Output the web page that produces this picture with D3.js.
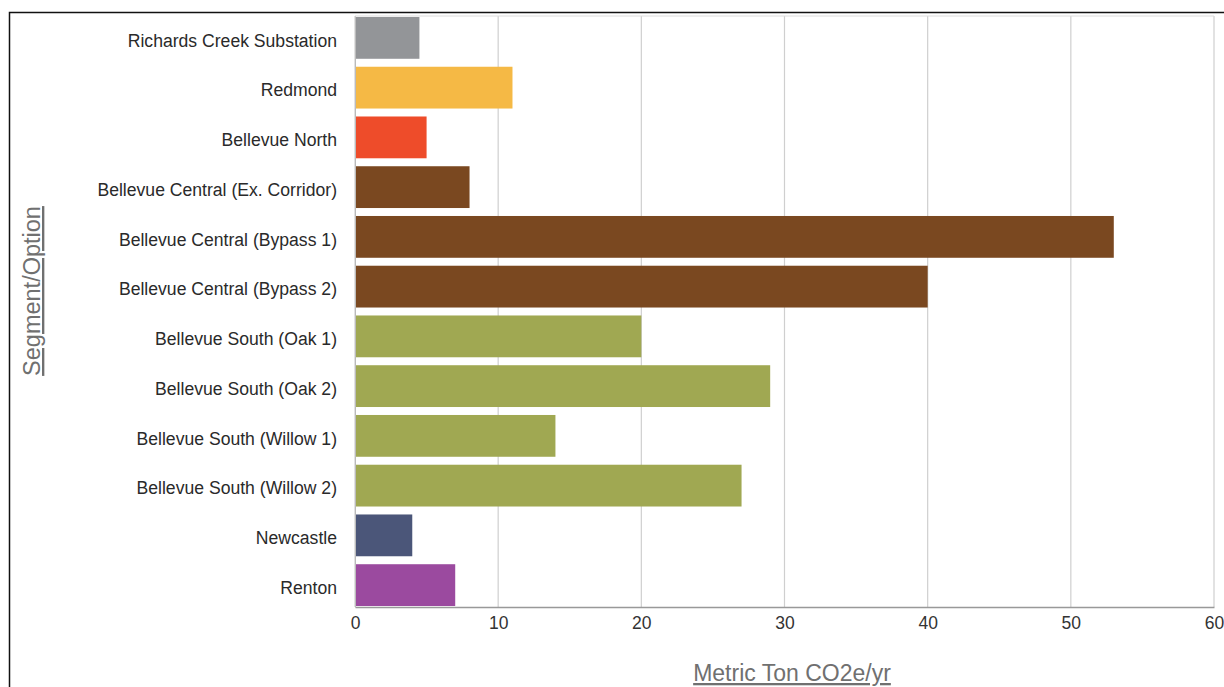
<!DOCTYPE html>
<html>
<head>
<meta charset="utf-8">
<script src="https://cdn.jsdelivr.net/npm/d3@7"></script>
<style>
  body { margin: 0; background: #fff; }
  svg { display: block; }
  text { font-family: "Liberation Sans", Arial, Helvetica, sans-serif; }
</style>
</head>
<body>
<div id="chart"></div>
<script>
// data
const segments = [
    "Richards Creek Substation", "Redmond", "Bellevue North",
    "Bellevue Central (Ex. Corridor)", "Bellevue Central (Bypass 1)",
    "Bellevue Central (Bypass 2)", "Bellevue South (Oak 1)",
    "Bellevue South (Oak 2)", "Bellevue South (Willow 1)",
    "Bellevue South (Willow 2)", "Newcastle", "Renton"
];
const emissions = [4.5, 11, 5, 8, 53, 40, 20, 29, 14, 27, 4, 7];
const barColors = [
    "#939598", "#f5b945", "#ee4c2a", "#7a4820", "#7a4820", "#7a4820",
    "#a0a852", "#a0a852", "#a0a852", "#a0a852", "#4b5679", "#9b4a9f"
];
const xTicks = [0, 10, 20, 30, 40, 50, 60];

const W = 1224, H = 687;
const margin = { top: 16, right: 10, bottom: 80, left: 355 };
const width = 1214 - margin.left,
    height = 607 - margin.top;

const root = d3.select("#chart").append("svg")
    .attr("width", W)
    .attr("height", H);

// outer frame
root.append("rect")
    .attr("x", 9.5).attr("y", 12.5)
    .attr("width", W).attr("height", H)
    .attr("fill", "none")
    .attr("stroke", "#111")
    .attr("stroke-width", 1.5);

const svg = root.append("g")
    .attr("transform", `translate(${margin.left},${margin.top})`);

const x = d3.scaleLinear().domain([0, 60]).range([0, width]);
const y = d3.scaleBand().domain(segments).range([0, height])
    .paddingInner(0.16).paddingOuter(0.02);

// grid
svg.append("g")
    .selectAll("line")
    .data(xTicks)
    .join("line")
    .attr("x1", d => x(d)).attr("x2", d => x(d))
    .attr("y1", 0).attr("y2", height)
    .attr("stroke", "#cfcfcf")
    .attr("stroke-width", 1.2);
svg.append("line")
    .attr("x1", 0).attr("x2", width)
    .attr("y1", 0).attr("y2", 0)
    .attr("stroke", "#dcdcdc");

// bars
svg.append("g")
    .selectAll("rect")
    .data(segments)
    .join("rect")
    .attr("x", x(0))
    .attr("y", d => y(d))
    .attr("width", (d, i) => x(emissions[i]) - x(0))
    .attr("height", y.bandwidth())
    .attr("fill", (d, i) => barColors[i]);

// x axis
const xAxis = svg.append("g")
    .attr("transform", `translate(0,${height})`)
    .call(d3.axisBottom(x).tickValues(xTicks).tickSize(0).tickPadding(10));
xAxis.select(".domain").attr("stroke", "#999").attr("stroke-width", 1.5);
xAxis.selectAll("text").attr("font-size", 17.5).attr("fill", "#333");

// y axis
const yAxis = svg.append("g")
    .call(d3.axisLeft(y).tickSize(0).tickPadding(18));
yAxis.select(".domain").attr("stroke", "#bbb");
yAxis.selectAll("text").attr("font-size", 17.6).attr("fill", "#2a2a2a")
    .attr("dy", "0.5em");

// axis titles
root.append("text")
    .attr("x", 792).attr("y", 681)
    .attr("text-anchor", "middle")
    .attr("font-size", 23)
    .attr("fill", "#707070")
    .attr("text-decoration", "underline")
    .text("Metric Ton CO2e/yr");

root.append("text")
    .attr("transform", "translate(40,291) rotate(-90)")
    .attr("text-anchor", "middle")
    .attr("font-size", 23.5)
    .attr("fill", "#707070")
    .attr("text-decoration", "underline")
    .text("Segment/Option");
</script>
</body>
</html>
